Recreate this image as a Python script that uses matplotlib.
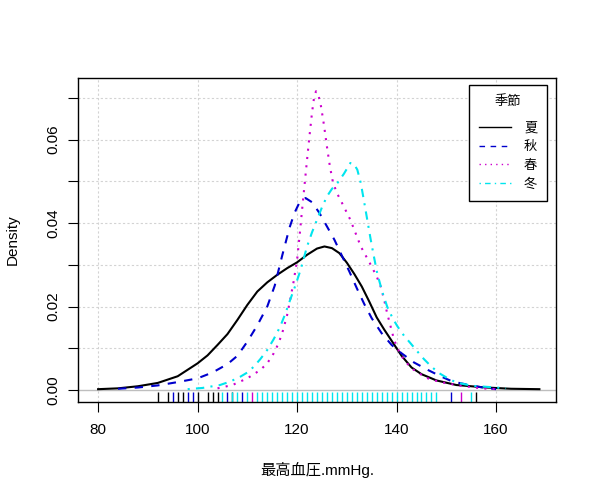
import matplotlib
matplotlib.use("Agg")
import matplotlib.pyplot as plt
from matplotlib.lines import Line2D

plt.rcParams['font.family'] = ['Liberation Sans', 'Noto Sans CJK JP', 'DejaVu Sans']

# density curves (x = mmHg, y = density)
summer_x = [80, 84, 88, 92, 96, 100, 102, 104, 106, 108, 110, 112, 114, 116, 118, 120, 122,
            124, 125.5, 127, 128.5, 130, 131.5, 133, 134.5, 136, 137.5, 139, 141, 143, 145,
            148, 152, 158, 163, 168.7]
summer_y = [0.0002, 0.0004, 0.0009, 0.0017, 0.0033, 0.0064, 0.0083, 0.0108, 0.0134, 0.0168,
            0.0204, 0.0236, 0.0258, 0.0276, 0.0292, 0.0306, 0.0324, 0.0339, 0.0344, 0.0340,
            0.0328, 0.0305, 0.0278, 0.0248, 0.0212, 0.0174, 0.0145, 0.0118, 0.0082, 0.0054,
            0.0038, 0.0023, 0.0012, 0.0006, 0.0003, 0.0002]

autumn_x = [84, 88, 92, 96, 100, 103, 106, 108, 110, 112, 114, 115.5, 117, 118.5, 119.5,
            120.5, 121.7, 123, 124.5, 126, 127.5, 129, 130.5, 132, 133.5, 135, 137, 139, 141,
            143.5, 146.3, 149, 151.3, 154.6, 157.3, 160]
autumn_y = [0.0003, 0.0006, 0.0011, 0.0019, 0.0028, 0.0042, 0.0062, 0.0082, 0.0116, 0.0155,
            0.0200, 0.0250, 0.0322, 0.0390, 0.0425, 0.0450, 0.0460, 0.0450, 0.0424, 0.0392,
            0.0360, 0.0322, 0.0284, 0.0244, 0.0206, 0.0172, 0.0136, 0.0108, 0.0088, 0.0066,
            0.0048, 0.0032, 0.0020, 0.0012, 0.0006, 0.0002]

spring_x = [104, 107, 110, 112.6, 114, 115.3, 116.2, 117, 118, 118.6, 119.3, 120, 120.5, 121,
            121.5, 122, 122.5, 123, 123.4, 123.8, 124.3, 124.8, 125.4, 126, 126.6, 127.2, 128,
            128.7, 130.7, 132.8, 134.8, 136, 136.8, 137.5, 138.1, 139.5, 140.5, 141.5, 143,
            144.5, 146.6, 149.3, 153, 157, 160]
spring_y = [0.0004, 0.0012, 0.0028, 0.0048, 0.0064, 0.0088, 0.0110, 0.0136, 0.0180, 0.0216,
            0.0260, 0.0312, 0.0370, 0.0432, 0.0492, 0.0552, 0.0610, 0.0665, 0.0700, 0.0716,
            0.0706, 0.0680, 0.0635, 0.0583, 0.0535, 0.0498, 0.0472, 0.0456, 0.0408, 0.0344,
            0.0300, 0.0272, 0.0248, 0.0216, 0.0184, 0.0120, 0.0092, 0.0072, 0.0052, 0.0040,
            0.0026, 0.0018, 0.0010, 0.0004, 0.0002]

winter_x = [98, 101, 104.5, 106.5, 108.6, 110, 111.3, 112.6, 114, 115.3, 116.6, 117.6, 118.6,
            119.7, 120.7, 122, 123, 124, 125, 126, 127, 128.1, 129.4, 130.7, 131.4, 132.1,
            132.8, 133.4, 134.1, 134.8, 135.5, 136.1, 137.1, 138.1, 139.2, 140.2, 141.5,
            142.8, 144.2, 145.5, 147, 148.6, 150.3, 152, 155.3, 160, 162]
winter_y = [0.0002, 0.0005, 0.0012, 0.0020, 0.0032, 0.0042, 0.0056, 0.0074, 0.0096, 0.0122,
            0.0152, 0.0182, 0.0216, 0.0252, 0.0288, 0.0344, 0.0378, 0.0408, 0.0438, 0.0464,
            0.0482, 0.0496, 0.0518, 0.0544, 0.0542, 0.0528, 0.0496, 0.0456, 0.0408, 0.0360,
            0.0316, 0.0280, 0.0236, 0.0200, 0.0172, 0.0152, 0.0130, 0.0112, 0.0092, 0.0074,
            0.0056, 0.0040, 0.0028, 0.0018, 0.0010, 0.0006, 0.0004]

# rug values (observations visible along the bottom)
summer_rug = [92, 94, 96, 97, 100, 102, 103, 104, 107, 156]
autumn_rug = [95, 98, 99, 106, 109, 151]
spring_rug = [111, 153]
winter_rug = [105, 107, 108, 110, 112, 113, 114, 115, 116, 117, 118, 119, 120, 121, 122,
              123, 124, 125, 126, 127, 128, 129, 130, 131, 132, 133, 134, 135, 136, 137,
              138, 139, 140, 141, 142, 143, 144, 145, 146, 147, 148, 155]

labels = ['夏', '秋', '春', '冬']
colors = ['black', '#0000CD', '#CD00CD', '#00E5EE']
dashes = [None, (4, 4), (1, 3), (1, 3, 4, 3)]

fig = plt.figure(figsize=(5.97, 5.0), dpi=100)
ax = fig.add_axes([0.131, 0.1966, 0.8, 0.6468])

# grid
for gx in [80, 100, 120, 140, 160]:
    ax.axvline(gx, color='#D3D3D3', lw=0.8, ls=(0, (2, 2)), zorder=0)
for gy in [0.01, 0.02, 0.03, 0.04, 0.05, 0.06, 0.07]:
    ax.axhline(gy, color='#D3D3D3', lw=0.8, ls=(0, (2, 2)), zorder=0)
ax.axhline(0, color='#BEBEBE', lw=1, zorder=1)

curves = [(summer_x, summer_y), (autumn_x, autumn_y), (spring_x, spring_y), (winter_x, winter_y)]
for (cx, cy), c, d in zip(curves, colors, dashes):
    line, = ax.plot(cx, cy, color=c, lw=1.5, zorder=3)
    if d is not None:
        line.set_dashes(d)
        line.set_dash_capstyle('butt')

rugs = [summer_rug, autumn_rug, spring_rug, winter_rug]
for r, c in zip(rugs, colors):
    ax.vlines(r, 0, 0.03, transform=ax.get_xaxis_transform(), colors=c, lw=1.0, zorder=2)

ax.set_xlim(76.0, 172.0)
ax.set_ylim(-0.0028, 0.0747)
ax.set_xticks([80, 100, 120, 140, 160])
yt = [0.0, 0.01, 0.02, 0.03, 0.04, 0.05, 0.06, 0.07]
ax.set_yticks(yt)
ax.set_yticklabels(['0.00', '', '0.02', '', '0.04', '', '0.06', ''], rotation=90, va='center')
ax.tick_params(axis='both', direction='out', length=7, width=0.8, labelsize=11, colors='black')
ax.tick_params(axis='x', pad=8)
ax.tick_params(axis='y', pad=6)
for s in ax.spines.values():
    s.set_linewidth(1)
    s.set_color('black')

ax.set_xlabel('最高血圧.mmHg.', fontsize=11, labelpad=18)
ax.set_ylabel('Density', fontsize=11, labelpad=19)

handles = []
for c, d in zip(colors, dashes):
    h = Line2D([0], [0], color=c, lw=1)
    if d is not None:
        h.set_dashes(d)
    handles.append(h)
leg = ax.legend(handles, labels, title='季節', loc='upper right',
                bbox_to_anchor=(0.982, 0.979), fontsize=9.5, title_fontsize=9.5,
                fancybox=False, framealpha=1, edgecolor='black',
                handlelength=2.4, handletextpad=1.0, labelspacing=0.48,
                borderpad=0.75, borderaxespad=0)
leg._legend_box.sep = 10.5
leg.get_frame().set_linewidth(1)

fig.savefig('out.png', dpi=100)
